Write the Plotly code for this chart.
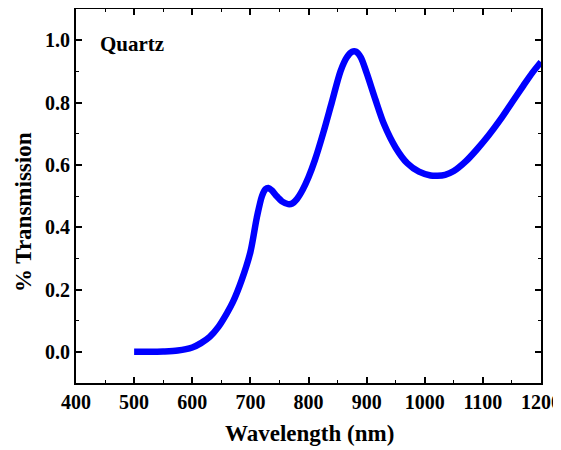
import plotly.graph_objects as go

wavelength = [500, 525, 550, 575, 600, 615, 630, 645, 660, 670, 685, 700, 711, 720, 726, 731, 737, 745, 755, 765, 772, 780, 790, 800, 811, 825, 840, 855, 866, 875, 882, 890, 900, 915, 930, 950, 970, 990, 1010, 1022, 1035, 1050, 1070, 1090, 1110, 1130, 1150, 1170, 1185, 1200]
transmission = [0.0, 0.0, 0.001, 0.004, 0.014, 0.028, 0.048, 0.08, 0.125, 0.16, 0.23, 0.32, 0.43, 0.50, 0.522, 0.526, 0.518, 0.50, 0.482, 0.474, 0.476, 0.49, 0.52, 0.56, 0.615, 0.70, 0.80, 0.90, 0.945, 0.963, 0.963, 0.945, 0.895, 0.81, 0.73, 0.655, 0.605, 0.578, 0.566, 0.565, 0.568, 0.58, 0.61, 0.65, 0.695, 0.745, 0.80, 0.855, 0.895, 0.93]

x_ticks = [400, 500, 600, 700, 800, 900, 1000, 1100, 1200]
y_ticks = [0.0, 0.2, 0.4, 0.6, 0.8, 1.0]

font_family = "Liberation Serif, Times New Roman, serif"

fig = go.Figure()
fig.add_trace(go.Scatter(
    x=wavelength, y=transmission, mode="lines",
    line=dict(color="#0000ff", width=6.5, shape="spline", smoothing=0.8),
    showlegend=False,
))

axis_common = dict(
    showline=True, linecolor="black", linewidth=2, mirror="allticks",
    ticks="inside", ticklen=6, tickwidth=1.5, tickcolor="black",
    showgrid=False, zeroline=False, automargin=False,
)

fig.update_layout(
    width=553, height=442,
    margin=dict(l=68, r=20, t=1, b=67),
    paper_bgcolor="white", plot_bgcolor="white",
    font=dict(family=font_family, color="black"),
    xaxis=dict(
        range=[400, 1200], tickvals=x_ticks,
        ticktext=["<b>%d</b>" % v for v in x_ticks],
        tickfont=dict(family=font_family, size=20, color="black"),
        minor=dict(ticks="inside", ticklen=3, tickwidth=1, dtick=50, tickcolor="black"),
        **axis_common,
    ),
    yaxis=dict(
        range=[-0.1, 1.1], tickvals=y_ticks,
        ticktext=["<b>%.1f</b>" % v for v in y_ticks],
        tickfont=dict(family=font_family, size=20, color="black"),
        minor=dict(ticks="inside", ticklen=3, tickwidth=1, dtick=0.1, tickcolor="black"),
        **axis_common,
    ),
)

fig.add_annotation(
    x=0.503, y=-0.136, xref="paper", yref="paper", xanchor="center", yanchor="middle",
    text="<b>Wavelength (nm)</b>", showarrow=False,
    font=dict(family=font_family, size=23, color="black"),
)
fig.add_annotation(
    x=-0.114, y=0.457, xref="paper", yref="paper", xanchor="center", yanchor="middle",
    text="<b>% Transmission</b>", showarrow=False, textangle=-90,
    font=dict(family=font_family, size=23, color="black"),
)
fig.add_annotation(
    x=0.047, y=0.907, xref="paper", yref="paper", xanchor="left", yanchor="middle",
    text="<b>Quartz</b>", showarrow=False,
    font=dict(family=font_family, size=21, color="black"),
)

fig.write_html("out.html")
